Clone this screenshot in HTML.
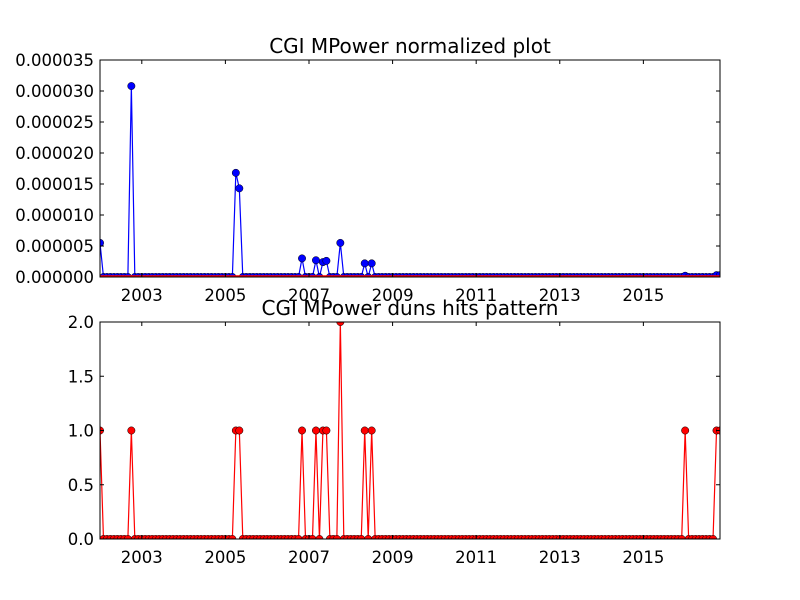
<!DOCTYPE html>
<html><head><meta charset="utf-8"><style>
body{margin:0;background:#fff}
svg{display:block;font-family:"DejaVu Sans","Liberation Sans",sans-serif}
</style></head><body>
<svg id="c" width="800" height="600"></svg>
<script>
const nMonths = 179;
const hitMonths = [0, 9, 39, 40, 58, 62, 64, 65, 69, 76, 78, 168, 177, 178];
const mpowerValues = [5.5e-6, 3.08e-5, 1.68e-5, 1.43e-5, 3.0e-6, 2.7e-6, 2.4e-6, 2.6e-6, 5.5e-6, 2.2e-6, 2.2e-6, 0.2e-6, 0.3e-6, 0.3e-6];
const hitValues = [1, 1, 1, 1, 1, 1, 1, 1, 2, 1, 1, 1, 1, 1];
const yearTicks = [2003, 2005, 2007, 2009, 2011, 2013, 2015];
const topYTicks = [0, 0.000005, 0.00001, 0.000015, 0.00002, 0.000025, 0.00003, 0.000035];
const topYLabels = ["0.000000","0.000005","0.000010","0.000015","0.000020","0.000025","0.000030","0.000035"];
const botYTicks = [0, 0.5, 1, 1.5, 2];
const botYLabels = ["0.0","0.5","1.0","1.5","2.0"];

const svg = document.getElementById('c');
const NS = 'http://www.w3.org/2000/svg';
function mk(tag, attrs, parent){const e=document.createElementNS(NS,tag);for(const k in attrs)e.setAttribute(k,attrs[k]);(parent||svg).appendChild(e);return e;}
const X0=100,X1=720;
const xs = m => X0 + m*(X1-X0)/(nMonths-1);
function full(vals){const a=new Array(nMonths).fill(0);hitMonths.forEach((m,i)=>a[m]=vals[i]);return a;}

function panel(name, top, bottom, ymax, yt, yl, title, series, color, redBase){
  const ys = v => bottom - v/ymax*(bottom-top);
  const g = mk('g',{});
  
  
  const clip = mk('clipPath',{id:name+'-clip'},g);
  mk('rect',{x:X0,y:top,width:X1-X0,height:bottom-top},clip);
  const plot = mk('g',{'clip-path':'url(#'+name+'-clip)'},g);
  const pts = series.map((v,i)=>xs(i).toFixed(2)+','+ys(v).toFixed(2)).join(' ');
  const pl = mk('polyline',{points:pts,fill:'none',stroke:color,'stroke-width':1.2},plot);
  
  
  series.forEach((v,i)=>{
    const c = mk('circle',{cx:xs(i),cy:ys(v),r:3.7,fill:color,stroke:'#000','stroke-width':0.5},plot);
    
    
  });
  if(redBase){
    const rl = mk('line',{x1:X0,x2:X1,y1:bottom-1,y2:bottom-1,stroke:'#f00','stroke-width':1.5},plot);
    
    
  }
  const fr = mk('rect',{x:X0,y:top,width:X1-X0,height:bottom-top,fill:'none',stroke:'#000','stroke-width':1},g);
  
  
  yt.forEach((v,i)=>{
    const y=ys(v);
    mk('line',{x1:X0,x2:X0+4,y1:y,y2:y,stroke:'#000'},g);
    mk('line',{x1:X1,x2:X1-4,y1:y,y2:y,stroke:'#000'},g);
    const t=mk('text',{x:X0-6,y:y+6,'text-anchor':'end','font-size':16.5},g);
    t.textContent=yl[i];
    
    
  });
  yearTicks.forEach(yr=>{
    const x=xs((yr-2002)*12);
    mk('line',{x1:x,x2:x,y1:bottom,y2:bottom-4,stroke:'#000'},g);
    mk('line',{x1:x,x2:x,y1:top,y2:top+4,stroke:'#000'},g);
    const t=mk('text',{x:x,y:bottom+24,'text-anchor':'middle','font-size':16.5},g);
    t.textContent=yr;
    
    
  });
  const tt=mk('text',{x:(X0+X1)/2,y:top-7,'text-anchor':'middle','font-size':20},g);
  tt.textContent=title;
  
  
}
panel('top-panel',60,277,0.000035,topYTicks,topYLabels,'CGI MPower normalized plot',full(mpowerValues),'#00f',true);
panel('bottom-panel',322,539,2,botYTicks,botYLabels,'CGI MPower duns hits pattern',full(hitValues),'#f00',false);
</script>
</body></html>
